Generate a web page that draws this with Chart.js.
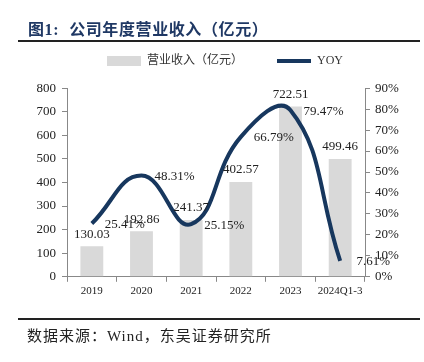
<!DOCTYPE html>
<html><head><meta charset="utf-8">
<script src="https://cdn.jsdelivr.net/npm/chart.js@4/dist/chart.umd.min.js"></script>
<style>
html,body{margin:0;padding:0;background:#fff;}
#wrap{position:relative;width:424px;height:362px;overflow:hidden;}
#title{position:absolute;left:28px;top:16px;font-family:"Liberation Serif","Noto Sans CJK SC",serif;font-weight:bold;font-size:16px;color:#1f3864;white-space:nowrap;letter-spacing:0.6px;}
#title .num{margin-right:10px;}
.rule{position:absolute;left:18px;width:402px;height:2px;background:#222;}
#src{position:absolute;left:27px;top:324px;font-family:"Liberation Serif","Noto Sans CJK SC",serif;font-size:15px;color:#222;white-space:nowrap;letter-spacing:1px;}
#c{position:absolute;left:0;top:0;}
</style></head>
<body><div id="wrap">
<canvas id="c" width="424" height="362"></canvas>
<div id="title"><span class="num">图1:</span>公司年度营业收入（亿元）</div>
<div class="rule" style="top:40px"></div>
<div class="rule" style="top:318px"></div>
<div id="src">数据来源：Wind，东吴证券研究所</div>
</div>
<script>
const categories = ['2019','2020','2021','2022','2023','2024Q1-3'];
const revenue = [130.03, 192.86, 241.37, 402.57, 722.51, 499.46];
const yoy = [25.41, 48.31, 25.15, 66.79, 79.47, 7.61];
const leftTicks = [0,100,200,300,400,500,600,700,800];
const rightTicks = [0,10,20,30,40,50,60,70,80,90];

const serif = '"Liberation Serif","Times New Roman",serif';

const labelPlugin = {
  id: 'valueLabels',
  afterDatasetsDraw(chart) {
    const ctx = chart.ctx;
    ctx.save();
    ctx.font = '13px ' + serif;
    ctx.fillStyle = '#222';
    ctx.textAlign = 'center';
    ctx.textBaseline = 'middle';
    const barMeta = chart.getDatasetMeta(0);
    barMeta.data.forEach((el, i) => {
      ctx.fillText(revenue[i].toFixed(2), el.x, el.y - 12);
    });
    const lineMeta = chart.getDatasetMeta(1);
    lineMeta.data.forEach((el, i) => {
      ctx.fillText(yoy[i].toFixed(2) + '%', el.x + 33, el.y + 1);
    });
    ctx.restore();
  }
};

new Chart(document.getElementById('c'), {
  data: {
    labels: categories,
    datasets: [
      { type: 'bar', label: '营业收入（亿元）', data: revenue, yAxisID: 'y',
        backgroundColor: '#d9d9d9', barPercentage: 0.46, categoryPercentage: 1, order: 2 },
      { type: 'line', label: 'YOY', data: yoy, yAxisID: 'y1',
        borderColor: '#17375e', backgroundColor: '#17375e', borderWidth: 4,
        pointRadius: 0, tension: 0.45, order: 1, borderCapStyle: 'butt' }
    ]
  },
  options: {
    responsive: false,
    animation: false,
    events: [],
    layout: { padding: { left: 26, right: 0, top: 21, bottom: 61 } },
    plugins: {
      tooltip: { enabled: false },
      subtitle: { display: true, text: ' ', weight: 500, position: 'top', font: { size: 1 }, padding: { top: 0, bottom: 10 } },
      legend: {
        display: true,
        position: 'top',
        labels: {
          usePointStyle: true,
          pointStyleWidth: 34,
          boxHeight: 10,
          padding: 34,
          color: '#333',
          font: { family: '"Liberation Serif","Noto Sans CJK SC",serif', size: 12 },
          generateLabels(chart) {
            return [
              { text: '营业收入（亿元）', fillStyle: '#d9d9d9', strokeStyle: '#d9d9d9', lineWidth: 0, pointStyle: 'rect', datasetIndex: 0, fontColor: '#333' },
              { text: 'YOY', fillStyle: '#17375e', strokeStyle: '#17375e', lineWidth: 4, pointStyle: 'line', datasetIndex: 1, fontColor: '#333' }
            ];
          }
        }
      }
    },
    scales: {
      x: {
        offset: true,
        grid: { display: true, drawOnChartArea: false, offset: true, tickLength: 5, color: '#888' },
        border: { color: '#888' },
        ticks: { color: '#222', font: { family: serif, size: 11 }, padding: 3, maxRotation: 0 }
      },
      y: {
        position: 'left', min: 0, max: 800,
        afterBuildTicks(s) { s.ticks = leftTicks.map(v => ({ value: v })); },
        afterFit(s) { s.width = 41; },
        grid: { display: true, drawOnChartArea: false, tickLength: 5, color: '#888' },
        border: { color: '#888' },
        ticks: { color: '#222', font: { family: serif, size: 13 }, padding: 6 }
      },
      y1: {
        position: 'right', min: 0, max: 90,
        afterBuildTicks(s) { s.ticks = rightTicks.map(v => ({ value: v })); },
        afterFit(s) { s.width = 59; },
        grid: { display: true, drawOnChartArea: false, tickLength: 5, color: '#888' },
        border: { color: '#888' },
        ticks: { color: '#222', font: { family: serif, size: 13 }, padding: 5, callback: v => v + '%' }
      }
    }
  },
  plugins: [labelPlugin]
});
</script>
</body></html>
